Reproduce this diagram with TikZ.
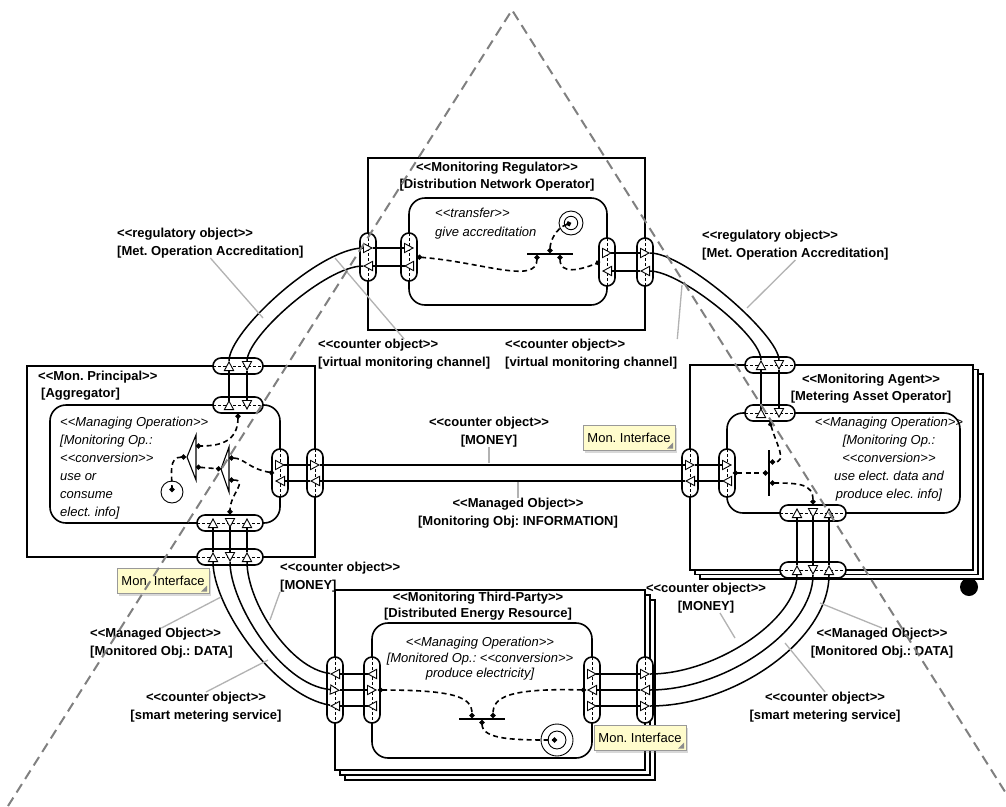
\documentclass[tikz,border=0pt]{standalone}
\usepackage{fontspec}
\setmainfont{Liberation Sans}
\usetikzlibrary{arrows.meta,shadows}
\frenchspacing

% <<...>> without the guillemet ligature of tex-text
\newcommand\stereo[1]{<\kern0pt<#1>\kern0pt>}

\tikzset{
  outerbox/.style={draw, line width=1.6pt, fill=white},
  opbox/.style={draw, line width=1.6pt, rounded corners=16pt},
  vpill/.style={draw, fill=white, line width=1.6pt, inner sep=0pt,
    minimum width=16pt, minimum height=48pt, rounded corners=8pt,
    path picture={\draw[line width=0.7pt, dash pattern=on 3pt off 2pt]
      (path picture bounding box.north) -- (path picture bounding box.south);}},
  vpill3/.style={vpill, minimum height=66pt},
  hpill/.style={draw, fill=white, line width=1.6pt, inner sep=0pt,
    minimum width=50pt, minimum height=16pt, rounded corners=8pt,
    path picture={\draw[line width=0.7pt, dash pattern=on 3pt off 2pt]
      (path picture bounding box.west) -- (path picture bounding box.east);}},
  hpill3/.style={hpill, minimum width=66pt},
  flowline/.style={line width=1.5pt, shorten <=5pt, shorten >=-5pt,
    -{Triangle[length=10pt, width=10.5pt, fill=white, line width=0.9pt]}},
  flowsrc/.style={flowline, shorten <=-5pt,
    {Triangle[reversed, length=10pt, width=10.5pt, fill=white, line width=0.9pt]}-{Triangle[length=10pt, width=10.5pt, fill=white, line width=0.9pt]}},
  ctlline/.style={line width=1.6pt, dash pattern=on 5pt off 3.5pt,
    {Circle[length=5pt]}-{Circle[length=5pt]}},
  hjoin/.style={fill, inner sep=0pt, minimum width=46pt, minimum height=1.6pt},
  vjoin/.style={fill, inner sep=0pt, minimum width=1.6pt, minimum height=46pt},
  finalnode/.style={circle, draw, line width=0.9pt, inner sep=0pt, minimum size=#1,
    path picture={\draw[line width=0.9pt] (path picture bounding box.center) circle (0.28*#1);}},
  finalnode/.default=24pt,
  actfinal/.style={circle, draw, line width=0.9pt, inner sep=0pt, minimum size=22pt},
  wedgeshape/.style={draw, line width=1.1pt},
  monnote/.style={draw=black!40, fill=yellow!20, line width=0.6pt, inner sep=0pt,
    minimum width=92pt, minimum height=25pt, font=\fontsize{13}{15}\selectfont,
    drop shadow={shadow xshift=2pt, shadow yshift=-2pt, opacity=0.3},
    path picture={\fill[black!45] ([shift={(-2pt,2pt)}]path picture bounding box.south east)
      -- ++(0pt,6pt) -- ++(-6pt,-6pt) -- cycle;}},
  leader/.style={draw=black!30, line width=1.3pt},
  lbl/.style={font=\bfseries\fontsize{13}{17.5}\selectfont, inner sep=0pt},
  ttl/.style={font=\bfseries\fontsize{13}{16.5}\selectfont, inner sep=0pt, align=center},
  optext/.style={font=\itshape\fontsize{13}{18}\selectfont, inner sep=0pt},
  viewtri/.style={draw=black!50, line width=2pt, dash pattern=on 10pt off 6pt}
}

\begin{document}
\begin{tikzpicture}[x=1pt, y=-1pt]
  \useasboundingbox (0,0) rectangle (1006,806);
  \fill[white] (0,0) rectangle (1006,806);

  % parts
  \draw[outerbox] (368,158) rectangle (645,330);
  \draw[outerbox] (27,366) rectangle (315,557);
  \foreach \sh in {10,5,0}
    \draw[outerbox] (690+\sh,365+0.9*\sh) rectangle (973+\sh,570+0.9*\sh);
  \foreach \sh in {10,5,0}
    \draw[outerbox] (335+\sh,590+\sh) rectangle (645+\sh,770+\sh);

  % operations
  \draw[opbox] (409,198) rectangle (607,305);
  \draw[opbox] (50,405) rectangle (280,523);
  \draw[opbox] (727,413) rectangle (960,513);
  \draw[opbox] (372,623) rectangle (592,758);

  % ports
  \node[vpill] (rgLo) at (368,257) {};
  \node[vpill] (rgLi) at (409,257) {};
  \node[vpill] (rgRi) at (607,262) {};
  \node[vpill] (rgRo) at (645,262) {};
  \node[hpill] (agTo) at (238,366) {};
  \node[hpill] (agTi) at (238,405) {};
  \node[vpill] (agRi) at (280,473) {};
  \node[vpill] (agRo) at (315,473) {};
  \node[hpill3] (agBi) at (230,523) {};
  \node[hpill3] (agBo) at (230,557) {};
  \node[hpill] (maTo) at (770,365) {};
  \node[hpill] (maTi) at (770,413) {};
  \node[vpill] (maLo) at (690,473) {};
  \node[vpill] (maLi) at (727,473) {};
  \node[hpill3] (maBi) at (813,513) {};
  \node[hpill3] (maBo) at (813,570) {};
  \node[vpill3] (tpLo) at (335,690) {};
  \node[vpill3] (tpLi) at (372,690) {};
  \node[vpill3] (tpRi) at (592,690) {};
  \node[vpill3] (tpRo) at (645,690) {};

  % Aggregator <-> Regulator
  \draw[flowsrc] ([xshift=-9pt]agTi.center) -- ([xshift=-9pt]agTo.center);
  \draw[flowline] ([xshift=-9pt]agTo.center) .. controls +(0,-35) and +(-48,0) .. ([yshift=9pt]rgLo.center);
  \draw[flowline] ([yshift=9pt]rgLo.center) -- ([yshift=9pt]rgLi.center);
  \draw[flowsrc] ([yshift=-9pt]rgLi.center) -- ([yshift=-9pt]rgLo.center);
  \draw[flowline] ([yshift=-9pt]rgLo.center) .. controls +(-42,0) and +(0,-30) .. ([xshift=9pt]agTo.center);
  \draw[flowline] ([xshift=9pt]agTo.center) -- ([xshift=9pt]agTi.center);

  % Regulator <-> Metering
  \draw[flowsrc] ([yshift=9pt]rgRi.center) -- ([yshift=9pt]rgRo.center);
  \draw[flowline] ([yshift=9pt]rgRo.center) .. controls +(40,0) and +(0,-30) .. ([xshift=9pt]maTo.center);
  \draw[flowline] ([xshift=9pt]maTo.center) -- ([xshift=9pt]maTi.center);
  \draw[flowsrc] ([xshift=-9pt]maTi.center) -- ([xshift=-9pt]maTo.center);
  \draw[flowline] ([xshift=-9pt]maTo.center) .. controls +(0,-30) and +(35,0) .. ([yshift=-9pt]rgRo.center);
  \draw[flowline] ([yshift=-9pt]rgRo.center) -- ([yshift=-9pt]rgRi.center);

  % Aggregator <-> Metering
  \draw[flowsrc] ([yshift=8pt]agRi.center) -- ([yshift=8pt]agRo.center);
  \draw[flowline] ([yshift=8pt]agRo.center) -- ([yshift=8pt]maLo.center);
  \draw[flowline] ([yshift=8pt]maLo.center) -- ([yshift=8pt]maLi.center);
  \draw[flowsrc] ([yshift=-8pt]maLi.center) -- ([yshift=-8pt]maLo.center);
  \draw[flowline] ([yshift=-8pt]maLo.center) -- ([yshift=-8pt]agRo.center);
  \draw[flowline] ([yshift=-8pt]agRo.center) -- ([yshift=-8pt]agRi.center);

  % Third-Party <-> Aggregator
  \draw[flowsrc] ([yshift=-16pt]tpLi.center) -- ([yshift=-16pt]tpLo.center);
  \draw[flowline] ([yshift=-16pt]tpLo.center) .. controls +(-60,-10) and +(0,50) .. ([xshift=-17pt]agBo.center);
  \draw[flowline] ([xshift=-17pt]agBo.center) -- ([xshift=-17pt]agBi.center);
  \draw[flowsrc] (agBi.center) -- (agBo.center);
  \draw[flowline] (agBo.center) .. controls +(0,45) and +(-55,-5) .. (tpLo.center);
  \draw[flowline] (tpLo.center) -- (tpLi.center);
  \draw[flowsrc] ([yshift=16pt]tpLi.center) -- ([yshift=16pt]tpLo.center);
  \draw[flowline] ([yshift=16pt]tpLo.center) .. controls +(-45,-5) and +(0,45) .. ([xshift=17pt]agBo.center);
  \draw[flowline] ([xshift=17pt]agBo.center) -- ([xshift=17pt]agBi.center);

  % Third-Party <-> Metering
  \draw[flowsrc] ([yshift=16pt]tpRi.center) -- ([yshift=16pt]tpRo.center);
  \draw[flowline] ([yshift=16pt]tpRo.center) .. controls +(70,0) and +(0,50) .. ([xshift=-16pt]maBo.center);
  \draw[flowline] ([xshift=-16pt]maBo.center) -- ([xshift=-16pt]maBi.center);
  \draw[flowsrc] (maBi.center) -- (maBo.center);
  \draw[flowline] (maBo.center) .. controls +(0,60) and +(80,0) .. (tpRo.center);
  \draw[flowline] (tpRo.center) -- (tpRi.center);
  \draw[flowsrc] ([yshift=-16pt]tpRi.center) -- ([yshift=-16pt]tpRo.center);
  \draw[flowline] ([yshift=-16pt]tpRo.center) .. controls +(90,0) and +(0,70) .. ([xshift=16pt]maBo.center);
  \draw[flowline] ([xshift=16pt]maBo.center) -- ([xshift=16pt]maBi.center);

  % Regulator inside
  \node[hjoin] (rgBar) at (550,254) {};
  \node[finalnode] (rgEnd) at (571,223) {};
  \draw[ctlline] ([xshift=8pt]rgLi.center) .. controls +(65,5) and +(0,30) .. ([xshift=-13pt]rgBar.south);
  \draw[ctlline] ([xshift=10pt]rgBar.south) .. controls +(0,20) and +(-20,8) .. ([xshift=-7pt]rgRi.center);
  \draw[ctlline] (rgEnd.center) .. controls +(-15,5) and +(0,-12) .. (rgBar.north);

  % Aggregator inside
  \coordinate (agW1) at (196,457);
  \coordinate (agW2) at (229,469);
  \draw[wedgeshape] ([yshift=22pt]agW1) -- ([yshift=-23pt]agW1) -- ([xshift=-9pt]agW1) -- cycle;
  \draw[wedgeshape] ([yshift=22pt]agW2) -- ([yshift=-23pt]agW2) -- ([xshift=-8pt]agW2) -- cycle;
  \node[actfinal] (agEnd) at (172,492) {};
  \draw[ctlline] (agTi.south) .. controls +(0,30) and +(20,0) .. ([yshift=11pt]agW1);
  \draw[ctlline] ([xshift=-10pt]agW1) .. controls +(-18,0) and +(0,-18) .. (agEnd.center);
  \draw[ctlline] ([yshift=-10pt]agW1) -- ([xshift=-8pt]agW2);
  \draw[ctlline] ([yshift=-11pt]agW2) .. controls +(20,0) and +(0,-20) .. (agBi.north);
  \draw[ctlline] ([xshift=-6pt]agRi.center) .. controls +(-25,-4) and +(15,0) .. ([yshift=11pt]agW2);

  % Metering inside
  \node[vjoin] (maBar) at (769,473) {};
  \draw[ctlline] ([xshift=6pt]maLi.center) -- (maBar.west);
  \draw[ctlline] (maTi.south) .. controls +(6,22) and +(18,0) .. ([yshift=11pt]maBar.east);
  \draw[ctlline] ([yshift=-10pt]maBar.east) .. controls +(30,0) and +(0,-20) .. (maBi.north);

  % Third-Party inside
  \node[hjoin] (tpBar) at (482,719) {};
  \node[finalnode=32pt] (tpEnd) at (557,740) {};
  \draw[ctlline] ([xshift=6pt]tpLi.center) .. controls +(80,0) and +(0,-20) .. ([xshift=-10pt]tpBar.north);
  \draw[ctlline] ([xshift=-6pt]tpRi.center) .. controls +(-80,-2) and +(0,-20) .. ([xshift=11pt]tpBar.north);
  \draw[ctlline] (tpBar.south) .. controls +(0,20) and +(-40,0) .. (tpEnd.center);

  % titles and operation texts
  \node[ttl, anchor=north] (rgTitle) at (497,162) {\stereo{Monitoring Regulator}\\{}[Distribution Network Operator]};
  \node[ttl, anchor=north west, align=left] (agTitle) at (38,371) {\stereo{Mon. Principal}\\{}\hspace{3pt}[Aggregator]};
  \node[ttl, anchor=north] (maTitle) at (871,374) {\stereo{Monitoring Agent}\\{}[Metering Asset Operator]};
  \node[ttl, anchor=north, font=\bfseries\fontsize{13}{15.5}\selectfont] (tpTitle) at (478,592) {\stereo{Monitoring Third-Party}\\{}[Distributed Energy Resource]};
  \node[optext, anchor=north west, align=left, font=\itshape\fontsize{13}{19}\selectfont] (rgOp) at (435,208) {\stereo{transfer}\\give accreditation};
  \node[optext, anchor=north west, align=left] (agOp) at (60,417) {\stereo{Managing Operation}\\{}[Monitoring Op.:\\\stereo{conversion}\\use or\\consume\\elect. info]};
  \node[optext, anchor=north, align=center] (maOp) at (889,417) {\stereo{Managing Operation}\\{}[Monitoring Op.:\\\stereo{conversion}\\use elect. data and\\produce elec. info]};
  \node[optext, anchor=north, align=center, font=\itshape\fontsize{13}{15.5}\selectfont] (tpOp) at (480,637) {\stereo{Managing Operation}\\{}[Monitored Op.: \stereo{conversion}\\produce electricity]};

  % object labels
  \node[lbl, anchor=north west, align=left] (lbRegL) at (117,228) {\stereo{regulatory object}\\{}[Met. Operation Accreditation]};
  \node[lbl, anchor=north west, align=left] (lbRegR) at (702,230) {\stereo{regulatory object}\\{}[Met. Operation Accreditation]};
  \node[lbl, anchor=north west, align=left] (lbVirL) at (318,339) {\stereo{counter object}\\{}[virtual monitoring channel]};
  \node[lbl, anchor=north west, align=left] (lbVirR) at (505,339) {\stereo{counter object}\\{}[virtual monitoring channel]};
  \node[lbl, anchor=north, align=center] (lbMoneyC) at (489,417) {\stereo{counter object}\\{}[MONEY]};
  \node[lbl, anchor=north, align=center] (lbInfo) at (518,498) {\stereo{Managed Object}\\{}[Monitoring Obj: INFORMATION]};
  \node[lbl, anchor=north west, align=left] (lbMoneyBL) at (280,562) {\stereo{counter object}\\{}[MONEY]};
  \node[lbl, anchor=north west, align=left] (lbDataL) at (90,628) {\stereo{Managed Object}\\{}[Monitored Obj.: DATA]};
  \node[lbl, anchor=north, align=center] (lbSmartL) at (206,692) {\stereo{counter object}\\{}[smart metering service]};
  \node[lbl, anchor=north, align=center] (lbMoneyBR) at (706,583) {\stereo{counter object}\\{}[MONEY]};
  \node[lbl, anchor=north, align=center] (lbDataR) at (882,628) {\stereo{Managed Object}\\{}[Monitored Obj.: DATA]};
  \node[lbl, anchor=north, align=center] (lbSmartR) at (825,692) {\stereo{counter object}\\{}[smart metering service]};

  \draw[leader] (lbRegL.south) -- (263,318) coordinate (pRegL);
  \draw[leader] (lbRegR.south) -- (747,308) coordinate (pRegR);
  \draw[leader] (lbVirL.north) -- (335,258) coordinate (pVirL);
  \draw[leader] (lbVirR.north east) -- (682,285) coordinate (pVirR);
  \draw[leader] (lbMoneyC.south) -- ++(0,16);
  \draw[leader] (lbInfo.north) -- ++(0,-16);
  \draw[leader] (lbMoneyBL.south west) -- (270,620) coordinate (pMoneyBL);
  \draw[leader] (lbDataL.north) -- (221,597) coordinate (pDataL);
  \draw[leader] (lbSmartL.north) -- (268,660) coordinate (pSmartL);
  \draw[leader] ([xshift=14pt]lbMoneyBR.south) -- (735,638) coordinate (pMoneyBR);
  \draw[leader] (lbDataR.north) -- (820,603) coordinate (pDataR);
  \draw[leader] (lbSmartR.north) -- (785,643) coordinate (pSmartR);

  % interface notes
  \node[monnote] (noteC) at (629,438) {Mon. Interface};
  \node[monnote] (noteL) at (163,581) {Mon. Interface};
  \node[monnote] (noteB) at (640,738) {Mon. Interface};

  % view triangle
  \draw[viewtri] (8,806) -- (512,10) -- (1014,806);

  \fill (969,587) circle (9pt);
\end{tikzpicture}
\end{document}
